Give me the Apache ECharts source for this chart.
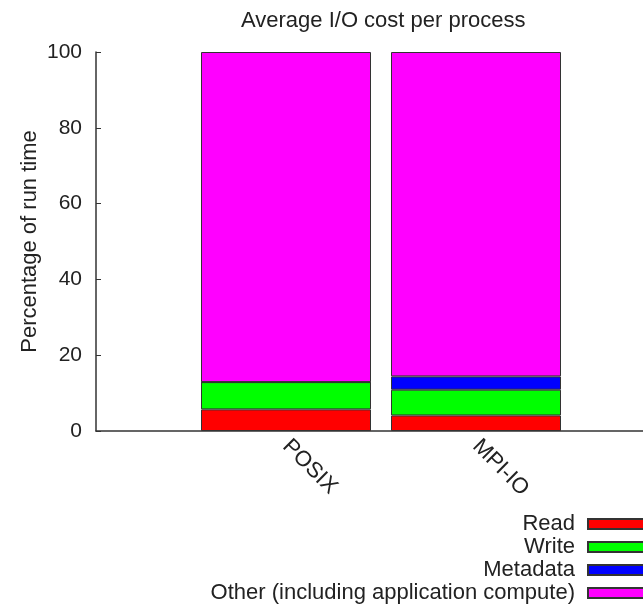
<!DOCTYPE html>
<html>
<head>
<meta charset="utf-8">
<script src="https://cdn.jsdelivr.net/npm/echarts@6/dist/echarts.min.js"></script>
<style>html,body{margin:0;padding:0;background:#fff}#c{width:643px;height:607px}</style>
</head>
<body>
<div id="c"></div>
<script>
const categories = ['POSIX', 'MPI-IO'];
const seriesNames = ['Read', 'Write', 'Metadata', 'Other (including application compute)'];
const readVals = [5.7, 4.1];
const writeVals = [7.2, 6.8];
const metadataVals = [0, 3.5];
const otherVals = [87.1, 85.6];
const yTicks = [0, 20, 40, 60, 80, 100];

const colors = ['#ff0000', '#00ff00', '#0000ff', '#ff00ff'];
const allVals = [readVals, writeVals, metadataVals, otherVals];
const font = 'Liberation Sans, Arial, Helvetica, sans-serif';
const fs = 22;
// padded axis so that the axis line spans the full plot like the original
const axisCats = [' ', ...categories, '  '];

const chart = echarts.init(document.getElementById('c'), null, {renderer: 'canvas'});
chart.setOption({
  animation: false,
  backgroundColor: '#ffffff',
  title: {
    text: 'Average I/O cost per process',
    left: 236, top: 5,
    textStyle: {fontFamily: font, fontSize: fs, fontWeight: 'normal', color: '#222'}
  },
  legend: seriesNames.map((name, i) => ({
    orient: 'horizontal',
    right: -11, top: 508 + i * 23,
    align: 'right',
    icon: 'rect',
    itemWidth: 60, itemHeight: 10,
    data: [name],
    textStyle: {fontFamily: font, fontSize: fs, color: '#222', lineHeight: 22, padding: [0, 8, 0, 0]}
  })),
  grid: {left: 96, width: 570, top: 52, height: 379, containLabel: false, outerBoundsMode: 'none'},
  xAxis: {
    type: 'category', data: axisCats, boundaryGap: false,
    axisLine: {show: true, lineStyle: {color: '#333', width: 1.5}},
    axisTick: {show: false},
    splitLine: {show: false},
    axisLabel: {
      rotate: -45, margin: 12, interval: 0,
      fontFamily: font, fontSize: fs, color: '#222'
    }
  },
  yAxis: {
    type: 'value', min: yTicks[0], max: yTicks[yTicks.length - 1], interval: 20,
    name: 'Percentage of run time', nameLocation: 'middle', nameGap: 55,
    nameMoveOverlap: false,
    nameTextStyle: {fontFamily: font, fontSize: fs, color: '#222'},
    axisLine: {show: true, lineStyle: {color: '#333', width: 1.5}},
    axisTick: {show: true, inside: true, length: 5, lineStyle: {color: '#333'}},
    splitLine: {show: false},
    axisLabel: {margin: 14, fontFamily: font, fontSize: 21, color: '#222'}
  },
  series: seriesNames.map((name, i) => ({
    name: name,
    type: 'bar',
    stack: 'total',
    barWidth: 170,
    itemStyle: {color: colors[i], borderColor: '#333', borderWidth: 1},
    data: allVals[i].map((v, j) => [categories[j], v])
  }))
});
</script>
</body>
</html>
